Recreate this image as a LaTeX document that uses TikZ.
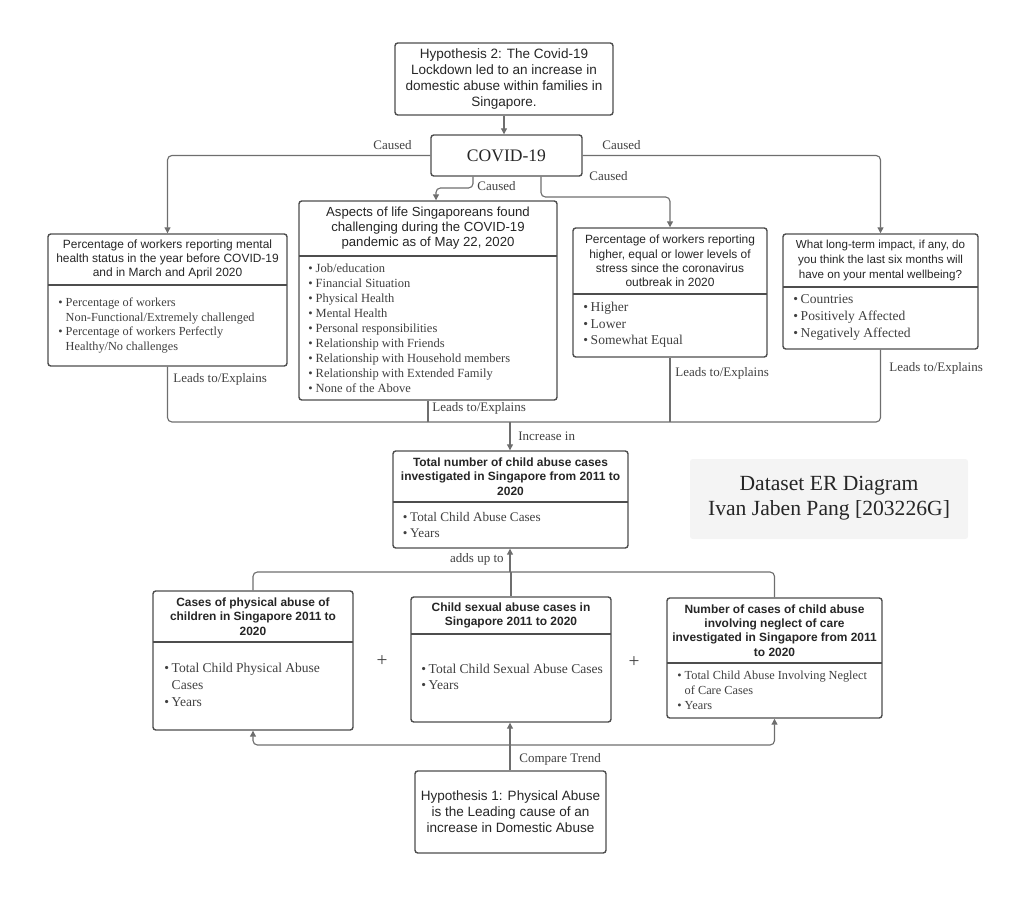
\documentclass[tikz,border=0pt]{standalone}
\usepackage{fontspec}
\setmainfont{Liberation Serif}
\setsansfont{Liberation Sans}
\usetikzlibrary{arrows.meta,fit}

\definecolor{boxline}{HTML}{4D4D4D}
\definecolor{wiregray}{HTML}{6E6E6E}
\definecolor{ink}{HTML}{262626}
\definecolor{greyink}{HTML}{404040}
\definecolor{panel}{HTML}{F4F4F4}

\newcommand{\bul}{\makebox[4.2pt][l]{\textbullet}}
\newcommand{\cnt}{\hspace*{4.2pt}}

\tikzset{
  >={Triangle[length=3.4pt,width=3.4pt]},
  box/.style={draw=boxline, line width=0.8pt, rounded corners=1.6pt, inner sep=0pt, fill=white},
  boxrule/.style={draw=boxline, line width=0.8pt},
  wire/.style={draw=wiregray, line width=0.65pt, rounded corners=2.5pt},
  ttl/.style={font=\sffamily\fontsize{6.8}{8.2}\selectfont, text=ink, align=center, inner sep=0pt},
  ttlb/.style={ttl, font=\sffamily\bfseries\fontsize{6.8}{8.2}\selectfont},
  body/.style={font=\fontsize{7.7}{9.5}\selectfont, text=greyink, align=left, anchor=west, inner sep=0pt},
  bodysm/.style={body, font=\fontsize{7}{8.5}\selectfont},
  hyp/.style={font=\sffamily\fontsize{7.7}{9.1}\selectfont, text=ink, align=center, inner sep=0pt},
  lbl/.style={font=\fontsize{7.4}{8.5}\selectfont, text=greyink, inner sep=0pt},
  plus/.style={font=\fontsize{11}{12}\selectfont, text=greyink, inner sep=0pt},
  ertxt/.style={font=\fontsize{12.3}{14.2}\selectfont, text=ink, align=center, inner sep=0pt},
  panelbox/.style={fill=panel, rounded corners=1.5pt, inner sep=0pt}
}

\begin{document}
\begin{tikzpicture}[x=0.02cm,y=-0.02cm]
\useasboundingbox (0,0) rectangle (1027,898);

% hypothesis 2 and the cause
\node[box, fit={(395,43) (613,115)}] (hypo2) {};
\node[hyp] (hypo2txt) at (hypo2.center) {Hypothesis 2: The Covid-19\\Lockdown led to an increase in\\domestic abuse within families in\\Singapore.};
\node[box, fit={(431,135) (582,176)}] (covid) {};
\node[font=\fontsize{10}{12}\selectfont, text=ink, inner sep=0pt] (covidtxt) at (covid.center) {COVID-19};

% the four survey tables
\node[box, fit={(48,234) (287,366)}] (mental) {};
\draw[boxrule] (48,285) -- (287,285);
\node[ttl] (mentalT) at (167.5,259.5) {Percentage of workers reporting mental\\health status in the year before COVID-19\\and in March and April 2020};
\node[bodysm] (mentalB) at (58,325.5) {\bul Percentage of workers\\\cnt Non-Functional/Extremely challenged\\\bul Percentage of workers Perfectly\\\cnt Healthy/No challenges};

\node[box, fit={(299,201) (557,400)}] (aspects) {};
\draw[boxrule] (299,256) -- (557,256);
\node[ttl, font=\sffamily\fontsize{7.5}{8.5}\selectfont] (aspectsT) at (428,228.5) {Aspects of life Singaporeans found\\challenging during the COVID-19\\pandemic as of May 22, 2020};
\node[bodysm, font=\fontsize{7.1}{8.5}\selectfont] (aspectsB) at (308,328) {\bul Job/education\\\bul Financial Situation\\\bul Physical Health\\\bul Mental Health\\\bul Personal responsibilities\\\bul Relationship with Friends\\\bul Relationship with Household members\\\bul Relationship with Extended Family\\\bul None of the Above};

\node[box, fit={(573,228) (767,357)}] (stress) {};
\draw[boxrule] (573,294) -- (767,294);
\node[ttl] (stressT) at (670,261) {Percentage of workers reporting\\higher, equal or lower levels of\\stress since the coronavirus\\outbreak in 2020};
\node[body] (stressB) at (583,325) {\bul Higher\\\bul Lower\\\bul Somewhat Equal};

\node[box, fit={(783,234) (978,349)}] (impact) {};
\draw[boxrule] (783,287) -- (978,287);
\node[ttl, font=\sffamily\fontsize{6.6}{8.3}\selectfont] (impactT) at (880.5,260.5) {What long-term impact, if any, do\\you think the last six months will\\have on your mental wellbeing?};
\node[body] (impactB) at (793,317.5) {\bul Countries\\\bul Positively Affected\\\bul Negatively Affected};

% total cases
\node[box, fit={(393,451) (628,548)}] (total) {};
\draw[boxrule] (393,502) -- (628,502);
\node[ttlb] (totalT) at (510.5,476.5) {Total number of child abuse cases\\investigated in Singapore from 2011 to\\2020};
\node[body, font=\fontsize{7.5}{9.5}\selectfont] (totalB) at (402.5,525) {\bul Total Child Abuse Cases\\\bul Years};

\node[panelbox, fit={(690,459) (968,539)}] (erpanel) {};
\node[ertxt] (ertitle) at (829,498) {Dataset ER Diagram\\Ivan Jaben Pang [203226G]};

% the three abuse tables
\node[box, fit={(153,591) (353,730)}] (physical) {};
\draw[boxrule] (153,642) -- (353,642);
\node[ttlb] (physicalT) at (253,616.5) {Cases of physical abuse of\\children in Singapore 2011 to\\2020};
\node[body] (physicalB) at (164,685) {\bul Total Child Physical Abuse\\\cnt Cases\\\bul Years};

\node[box, fit={(411,597) (611,722)}] (sexual) {};
\draw[boxrule] (411,634) -- (611,634);
\node[ttlb] (sexualT) at (511,615.5) {Child sexual abuse cases in\\Singapore 2011 to 2020};
\node[body] (sexualB) at (421,677) {\bul Total Child Sexual Abuse Cases\\\bul Years};

\node[box, fit={(667,598) (882,718)}] (neglect) {};
\draw[boxrule] (667,663) -- (882,663);
\node[ttlb] (neglectT) at (774.5,630.5) {Number of cases of child abuse\\involving neglect of care\\investigated in Singapore from 2011\\to 2020};
\node[bodysm] (neglectB) at (677,690.5) {\bul Total Child Abuse Involving Neglect\\\cnt of Care Cases\\\bul Years};

\node[plus] (plusA) at (382,661) {+};
\node[plus] (plusB) at (634,662) {+};

\node[box, fit={(415,771) (606,853)}] (hypo1) {};
\node[hyp] (hypo1txt) at (hypo1.center) {Hypothesis 1: Physical Abuse\\is the Leading cause of an\\increase in Domestic Abuse};

% caused
\draw[wire,->] (hypo2.south) -- (hypo2.south |- covid.north);
\draw[wire,->] (covid.west) -| (mental.north);
\draw[wire,->] (covid.east) -| (impact.north);
\draw[wire,->] (covid.south -| 473,0) -- (473,188) -| (aspects.north -| 436,0);
\draw[wire,->] (covid.south -| 541,0) -- (541,197) -| (stress.north);
\node[lbl, anchor=east] (causedL) at (412,145) {Caused};
\node[lbl, anchor=west] (causedR) at (602,145) {Caused};
\node[lbl, anchor=west] (causedM) at (477,186) {Caused};
\node[lbl, anchor=west] (causedS) at (589,176) {Caused};

% leads to / explains
\coordinate (leadbus) at (510,422);
\draw[wire] (mental.south) |- (leadbus) -| (impact.south);
\draw[wire] (aspects.south) -- (aspects.south |- leadbus);
\draw[wire] (stress.south) -- (stress.south |- leadbus);
\draw[wire,->] (leadbus) -- (leadbus |- total.north);
\node[lbl, anchor=west] (leadA) at (173,379) {Leads to/Explains};
\node[lbl, anchor=west] (leadB) at (432,408) {Leads to/Explains};
\node[lbl, anchor=west] (leadC) at (675,373) {Leads to/Explains};
\node[lbl, anchor=west] (leadD) at (889,368) {Leads to/Explains};
\node[lbl, anchor=west] (incr) at (518,436) {Increase in};

% adds up to
\coordinate (addbus) at (510,572);
\draw[wire] (physical.north) |- (addbus) -| (neglect.north);
\draw[wire] (sexual.north) -- (sexual.north |- addbus);
\draw[wire,->] (addbus) -- (addbus |- total.south);
\node[lbl, anchor=east] (addsup) at (504,559) {adds up to};

% compare trend
\coordinate (cmpbus) at (510,745);
\draw[wire,->] (hypo1.north -| cmpbus) -- (cmpbus |- sexual.south);
\draw[wire,->] (cmpbus) -| (physical.south);
\draw[wire,->] (cmpbus) -| (neglect.south);
\node[lbl, anchor=west] (cmptrend) at (519,759) {Compare Trend};

\end{tikzpicture}
\end{document}
